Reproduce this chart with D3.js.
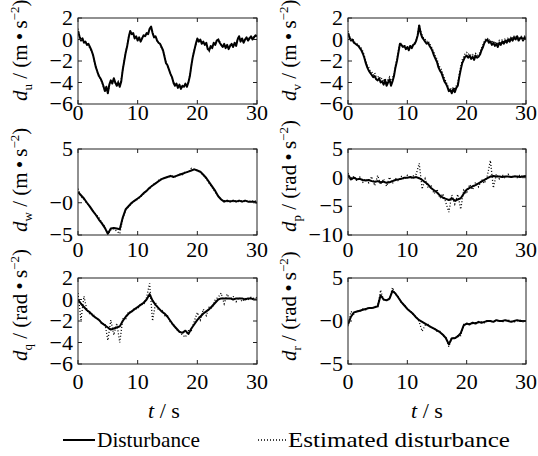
<!DOCTYPE html>
<html><head><meta charset="utf-8">
<script src="https://cdn.jsdelivr.net/npm/d3@7"></script>
</head><body style="margin:0">
<svg id="c" width="538" height="456" font-family="Liberation Serif"></svg>
<script>
// ---------- data (time step 0.25 s for u,v; 0.5 s for w,p,q,r) ----------
const xTicks = [0, 10, 20, 30];
const xTickLabels = ["0", "10", "20", "30"];

const du = [0.8,0.3,-0.1,0.1,-0.3,-0.2,-0.5,-0.4,-0.7,
 -1.0,-1.4,-2.0,-2.6,-3.0,-3.4,-3.6,-3.9,
 -4.3,-4.8,-4.4,-5.0,-4.2,-3.8,-4.1,-3.6,
 -4.0,-4.3,-4.0,-4.4,-3.9,-2.8,-2.0,-1.2,
 -0.6,0.2,0.8,0.5,0.6,0.1,0.3,-0.1,
 0.2,-0.2,0.1,0.4,0.3,0.6,0.5,1.0,
 1.2,0.6,0.2,0.3,-0.1,-0.3,-0.4,-0.7,
 -1.0,-1.6,-2.2,-2.4,-2.8,-3.2,-3.5,-4.0,
 -4.3,-4.1,-4.5,-4.2,-4.6,-4.3,-4.4,-4.1,
 -4.4,-4.0,-3.4,-2.4,-1.6,-1.0,-0.4,0.1,
 -0.2,0.0,-0.4,-0.2,-0.5,-0.3,-0.9,-1.0,
 -0.6,-0.8,-0.3,-0.5,-0.1,0.0,-0.3,-0.5,
 -0.7,-0.4,-0.8,-0.5,-0.9,-0.6,-0.4,-0.7,
 -0.3,-0.6,0.0,0.3,-0.2,0.1,-0.3,0.0,
 0.2,-0.1,0.1,0.3,0.0,0.2,0.4,0.3];
const duEst = [1.0,0.4,0.0,-0.1,-0.2,-0.4,-0.3,-0.6,-0.8,
 -1.1,-1.3,-2.1,-2.5,-3.1,-3.3,-3.7,-4.0,
 -4.4,-4.7,-4.5,-4.9,-4.3,-3.9,-3.9,-3.7,
 -4.1,-4.2,-3.9,-4.3,-3.7,-2.9,-1.9,-1.1,
 -0.5,0.3,0.7,0.6,0.4,0.2,0.2,0.0,
 0.1,-0.1,0.2,0.3,0.4,0.5,0.6,0.9,
 1.1,0.7,0.3,0.2,0.0,-0.4,-0.3,-0.8,
 -1.1,-1.5,-2.1,-2.5,-2.7,-3.3,-3.4,-4.1,
 -4.2,-4.2,-4.4,-4.3,-4.5,-4.4,-4.3,-4.2,
 -4.3,-3.9,-3.3,-2.5,-1.5,-0.9,-0.5,0.0,
 -0.1,-0.1,-0.3,-0.3,-0.4,-0.4,-0.8,-1.1,
 -0.7,-0.7,-0.4,-0.4,-0.2,0.1,-0.2,-0.6,
 -0.6,-0.5,-0.7,-0.6,-0.8,-0.5,-0.5,-0.6,
 -0.4,-0.5,0.1,0.2,-0.1,0.0,-0.2,0.1,
 0.1,0.0,0.2,0.2,0.1,0.3,0.3,0.4];

const dv = [0.6,0.2,-0.1,0.0,-0.3,-0.4,-0.5,-0.6,-0.8,
 -1.0,-1.3,-1.7,-2.2,-2.6,-2.9,-3.1,-3.3,
 -3.5,-3.4,-3.7,-3.8,-3.6,-4.0,-3.9,-4.2,
 -3.8,-4.3,-4.0,-3.7,-4.3,-3.9,-3.4,-2.6,
 -2.0,-1.2,-0.4,-0.5,-0.7,-0.6,-0.9,-0.7,
 -1.0,-0.6,-0.8,-0.5,-0.4,-0.1,0.4,1.3,
 0.6,0.2,0.0,-0.2,-0.4,-0.3,-0.6,-0.8,
 -1.1,-1.5,-1.8,-2.1,-2.6,-2.9,-3.1,-3.5,
 -3.9,-4.1,-4.4,-4.8,-4.7,-5.0,-4.6,-4.9,
 -4.5,-4.3,-3.5,-2.8,-2.2,-1.9,-1.6,-1.5,
 -1.7,-1.5,-1.8,-1.6,-1.9,-1.5,-1.7,-1.6,
 -1.4,-1.0,-0.7,-0.3,-0.1,0.0,-0.3,-0.2,
 -0.5,-0.3,-0.6,-0.4,-0.7,-0.3,-0.5,-0.2,
 -0.4,-0.1,-0.3,0.0,-0.2,0.1,-0.1,0.2,
 0.0,0.3,-0.1,0.1,0.2,-0.1,0.2,0.0];
const dvEst = [0.8,0.3,0.0,0.1,-0.2,-0.3,-0.4,-0.5,-0.7,
 -0.8,-1.1,-1.5,-2.0,-2.4,-2.6,-2.9,-3.0,
 -3.3,-3.1,-3.5,-3.5,-3.4,-3.7,-3.6,-3.9,
 -3.6,-4.0,-3.7,-3.5,-4.0,-3.6,-3.2,-2.4,
 -1.8,-1.0,-0.3,-0.4,-0.6,-0.5,-0.8,-0.6,
 -0.9,-0.5,-0.7,-0.4,-0.3,0.0,0.5,1.4,
 0.8,0.4,0.1,0.0,-0.2,-0.1,-0.4,-0.6,
 -0.9,-1.2,-1.6,-1.8,-2.3,-2.6,-2.8,-3.2,
 -3.6,-3.9,-4.2,-4.6,-4.5,-4.8,-4.4,-4.7,
 -4.3,-4.0,-3.2,-2.5,-1.9,-1.6,-1.3,-1.2,
 -1.4,-1.3,-1.5,-1.4,-1.6,-1.3,-1.5,-1.4,
 -1.2,-0.8,-0.5,-0.1,0.1,0.1,-0.1,0.0,
 -0.3,-0.1,-0.4,-0.2,-0.5,-0.1,-0.3,0.0,
 -0.2,0.1,-0.1,0.2,0.0,0.3,0.1,0.3,
 0.2,0.4,0.1,0.3,0.3,0.1,0.3,0.2];

const dw = [1.0,0.7,0.4,0.0,-0.6,-1.3,-1.9,-2.6,-3.2,-3.9,
 -4.8,-4.0,-3.9,-4.0,-4.1,-2.3,-1.0,-0.5,0.0,0.2,
 0.4,0.6,0.9,1.1,1.4,1.6,1.8,2.0,2.2,2.3,
 2.4,2.5,2.4,2.5,2.6,2.7,2.8,2.9,3.0,3.1,
 3.0,2.9,2.6,2.3,1.9,1.5,1.1,0.6,0.3,0.1,
 0.2,0.1,0.2,0.1,0.2,0.1,0.2,0.1,0.1,0.1,0.0];
const dwEst = [1.3,0.6,0.3,-0.1,-0.7,-1.2,-1.8,-2.3,-3.1,-3.7,
 -4.9,-4.2,-4.0,-4.4,-4.8,-2.4,-1.1,-0.6,-0.1,0.2,
 0.3,0.6,0.8,1.2,1.3,1.7,1.8,2.1,2.2,2.3,
 2.4,2.4,2.5,2.4,2.7,2.6,2.9,2.8,3.2,3.1,
 3.0,2.8,2.6,2.2,1.8,1.4,1.0,0.6,0.3,0.2,
 0.1,0.2,0.1,0.2,0.1,0.2,0.1,0.2,0.1,0.2,0.1];

const dp = [0.5,-0.3,0.0,-0.3,-0.2,-0.4,-0.5,-0.4,-0.6,-0.7,
 -0.6,-0.8,-0.7,-0.9,-0.8,-0.6,-0.4,-0.3,-0.2,0.0,
 0.0,0.1,0.0,0.1,-0.1,-0.4,-0.8,-1.2,-1.8,-2.2,
 -2.6,-3.1,-3.5,-3.7,-3.9,-3.6,-4.0,-3.8,-3.6,-2.8,
 -2.1,-1.8,-1.5,-1.3,-1.0,-0.7,-0.4,-0.1,0.2,0.3,
 0.2,0.2,0.1,0.2,0.2,0.1,0.2,0.2,0.1,0.2,0.3];
const dpEst = [0.8,-0.5,0.3,-0.6,0.1,-0.8,-0.2,-0.9,0.2,-1.4,
 0.4,-1.2,-0.2,-1.5,0.1,-1.0,-0.1,-0.6,0.2,-0.3,
 0.4,-0.2,0.3,0.6,2.5,-2.0,-0.2,-1.8,-1.3,-2.8,
 -2.0,-3.6,-2.8,-4.4,-6.0,-3.0,-4.6,-2.9,-5.5,-2.2,
 -2.8,-1.2,-2.1,-0.8,-1.6,-0.3,-1.0,0.4,3.0,-1.8,
 0.6,-0.2,0.5,-0.1,0.6,0.0,0.4,0.0,0.5,0.1,0.4];

const dq = [0.0,-0.4,-0.7,-1.0,-1.2,-1.5,-1.7,-1.9,-2.2,-2.4,
 -2.6,-2.8,-2.7,-2.6,-2.5,-2.0,-1.6,-1.3,-1.1,-0.9,
 -0.7,-0.5,-0.3,0.0,0.5,-0.1,-0.5,-0.8,-1.1,-1.3,
 -1.6,-2.0,-2.4,-2.7,-3.0,-3.1,-2.9,-3.2,-2.7,-2.3,
 -1.9,-1.6,-1.3,-1.1,-0.9,-0.6,-0.3,0.0,0.1,0.1,
 0.1,0.1,0.0,0.1,0.1,0.1,0.0,0.1,0.1,0.0,0.0];
const dqEst = [0.6,-1.9,0.3,-1.0,-1.4,-1.3,-1.8,-1.8,-2.3,-2.2,
 -3.8,-1.9,-3.3,-2.2,-4.0,-1.8,-1.8,-1.1,-1.2,-0.8,
 -0.9,-0.4,-0.5,0.2,1.5,-2.0,-0.3,-1.0,-0.9,-1.5,
 -1.5,-2.2,-2.3,-2.8,-3.0,-3.3,-3.5,-2.9,-2.9,-2.0,
 -1.2,-1.9,-0.9,-1.5,-0.7,-0.8,0.0,0.2,0.6,-0.4,
 0.5,0.0,0.3,-0.2,0.2,-0.2,0.1,0.0,0.2,0.1,0.2];

const dr = [-0.4,0.5,1.0,1.1,1.2,1.3,1.4,1.5,1.5,1.6,
 1.7,3.0,2.5,2.4,2.6,3.5,3.2,2.7,2.2,1.8,
 1.4,1.1,0.8,0.4,0.1,-0.1,-0.3,-0.5,-0.7,-0.9,
 -1.1,-1.3,-1.6,-2.0,-2.7,-2.0,-2.0,-1.8,-1.4,-0.5,
 -0.3,-0.4,-0.2,-0.3,-0.1,-0.2,-0.1,0.0,0.0,-0.1,
 0.1,0.0,0.0,0.1,0.0,-0.1,0.0,0.1,0.0,0.0,0.0];
const drEst = [-0.6,1.1,0.8,1.2,1.1,1.4,1.3,1.6,1.4,1.7,
 1.6,3.6,2.4,2.5,2.5,3.9,3.1,2.8,2.1,1.9,
 1.3,1.2,0.7,0.5,-0.1,-1.2,-0.5,-0.4,-0.8,-0.8,
 -1.2,-1.2,-1.7,-1.9,-3.0,-1.9,-2.1,-1.7,-1.7,-0.4,
 -0.4,-0.3,-0.3,-0.2,-0.2,-0.1,-0.2,0.1,-0.1,0.0,
 0.0,0.1,-0.1,0.0,0.1,0.0,-0.1,0.0,0.1,-0.1,0.0];

const uvqTicks = [-6, -4, -2, 0, 2];
const uvqTickLabels = ["\u22126", "\u22124", "\u22122", "0", "2"];
const wrTicks = [-5, 0, 5];
const wrTickLabels = ["\u22125", "\u22120", "5"];
const pTicks = [-10, -5, 0, 5];
const pTickLabels = ["\u221210", "\u22125", "0", "5"];

const legendLabels = ["Disturbance", "Estimated disturbance"];

// ---------- layout ----------
const FONT = "Liberation Serif";
const cols = [[78, 257], [348, 526]];
const rows = [[18, 104], [149, 235], [278, 364]];
const xPad = [1, 7, 10];
const panels = [
  {c:0, r:0, dist:du, est:duEst, dom:[-6,2], ticks:uvqTicks, labels:uvqTickLabels, sub:"u", unit:"m"},
  {c:1, r:0, dist:dv, est:dvEst, dom:[-6,2], ticks:uvqTicks, labels:uvqTickLabels, sub:"v", unit:"m"},
  {c:0, r:1, dist:dw, est:dwEst, dom:[-5,0,5], zeroFrac:0.625, ticks:wrTicks, labels:wrTickLabels, sub:"w", unit:"m"},
  {c:1, r:1, dist:dp, est:dpEst, dom:[-10,5], ticks:pTicks, labels:pTickLabels, sub:"p", unit:"rad"},
  {c:0, r:2, dist:dq, est:dqEst, dom:[-6,2], ticks:uvqTicks, labels:uvqTickLabels, sub:"q", unit:"rad"},
  {c:1, r:2, dist:dr, est:drEst, dom:[-5,5], ticks:wrTicks, labels:wrTickLabels, sub:"r", unit:"rad"}
];

const svg = d3.select("#c");
const FS = 22;
const TFS = 21;

panels.forEach((p, k) => {
  const [x0, x1] = cols[p.c];
  const [y0, y1] = rows[p.r];
  const x = d3.scaleLinear().domain([0, 30]).range([x0, x1]);
  let y;
  if (p.dom.length === 3) {
    const yz = y0 + p.zeroFrac * (y1 - y0);
    y = d3.scaleLinear().domain(p.dom).range([y1, yz, y0]);
  } else {
    y = d3.scaleLinear().domain(p.dom).range([y1, y0]);
  }
  const g = svg.append("g");
  const cid = "clip" + k;
  g.append("clipPath").attr("id", cid).append("rect")
    .attr("x", x0).attr("y", y0).attr("width", x1 - x0).attr("height", y1 - y0);

  const mk = arr => {
    const step = 30 / (arr.length - 1);
    return d3.line().x((d, i) => x(i * step)).y(d => y(d))(arr);
  };
  const plot = g.append("g").attr("clip-path", `url(#${cid})`);
  plot.append("path").attr("d", mk(p.est)).attr("fill", "none")
    .attr("stroke", "#000").attr("stroke-width", 1.3).attr("stroke-dasharray", "1,2");
  plot.append("path").attr("d", mk(p.dist)).attr("fill", "none")
    .attr("stroke", "#000").attr("stroke-width", 2).attr("stroke-linejoin", "round");

  // box
  g.append("rect").attr("x", x0).attr("y", y0).attr("width", x1 - x0).attr("height", y1 - y0)
    .attr("fill", "none").attr("stroke", "#222").attr("stroke-width", 1);

  // inward ticks on all four sides
  const tk = g.append("g").attr("stroke", "#222").attr("stroke-width", 1);
  xTicks.forEach(v => {
    tk.append("line").attr("x1", x(v)).attr("x2", x(v)).attr("y1", y1).attr("y2", y1 - 4);
    tk.append("line").attr("x1", x(v)).attr("x2", x(v)).attr("y1", y0).attr("y2", y0 + 4);
  });
  p.ticks.forEach(v => {
    tk.append("line").attr("x1", x0).attr("x2", x0 + 4).attr("y1", y(v)).attr("y2", y(v));
    tk.append("line").attr("x1", x1).attr("x2", x1 - 4).attr("y1", y(v)).attr("y2", y(v));
  });

  // tick labels
  xTicks.forEach((v, i) => {
    g.append("text").attr("x", x(v)).attr("y", y1 + xPad[p.r] + 15)
      .attr("text-anchor", "middle").attr("font-size", FS).attr("font-family", FONT)
      .text(xTickLabels[i]);
  });
  p.ticks.forEach((v, i) => {
    g.append("text").attr("x", x0 - 5).attr("y", y(v) + 7)
      .attr("text-anchor", "end").attr("font-size", FS).attr("font-family", FONT)
      .text(p.labels[i]);
  });

  // y-axis title
  const lx = p.c === 0 ? 27 : 296;
  const t = svg.append("text")
    .attr("transform", `translate(${lx},${y1 - 3}) rotate(-90)`)
    .attr("text-anchor", "start").attr("font-size", TFS).attr("font-family", FONT);
  t.append("tspan").attr("font-style", "italic").attr("font-family", FONT).text("d");
  t.append("tspan").attr("font-size", 13).attr("dy", 5).attr("font-family", FONT).text(p.sub);
  t.append("tspan").attr("dy", -5).attr("font-family", FONT).text(" / (" + p.unit + "\u2009\u2022\u2009s");
  t.append("tspan").attr("font-size", 13).attr("dy", -8).attr("font-family", FONT).text("\u22122");
  t.append("tspan").attr("dy", 8).attr("font-family", FONT).text(")");
});

// x-axis titles
[[164, 418], [427, 418]].forEach(([cx, cy]) => {
  const t = svg.append("text").attr("x", cx).attr("y", cy).attr("text-anchor", "middle")
    .attr("font-size", FS).attr("font-family", FONT);
  t.append("tspan").attr("font-style", "italic").text("t");
  t.append("tspan").text(" / s");
});

// legend
svg.append("line").attr("x1", 63).attr("x2", 95).attr("y1", 440).attr("y2", 440)
  .attr("stroke", "#000").attr("stroke-width", 2);
svg.append("text").attr("x", 97).attr("y", 447).attr("font-size", FS).attr("font-family", FONT)
  .attr("textLength", 103).attr("lengthAdjust", "spacingAndGlyphs").text(legendLabels[0]);
svg.append("line").attr("x1", 258).attr("x2", 287).attr("y1", 440).attr("y2", 440)
  .attr("stroke", "#000").attr("stroke-width", 1.3).attr("stroke-dasharray", "1,2");
svg.append("text").attr("x", 288).attr("y", 447).attr("font-size", FS).attr("font-family", FONT)
  .attr("textLength", 222).attr("lengthAdjust", "spacingAndGlyphs").text(legendLabels[1]);
</script>
</body></html>
